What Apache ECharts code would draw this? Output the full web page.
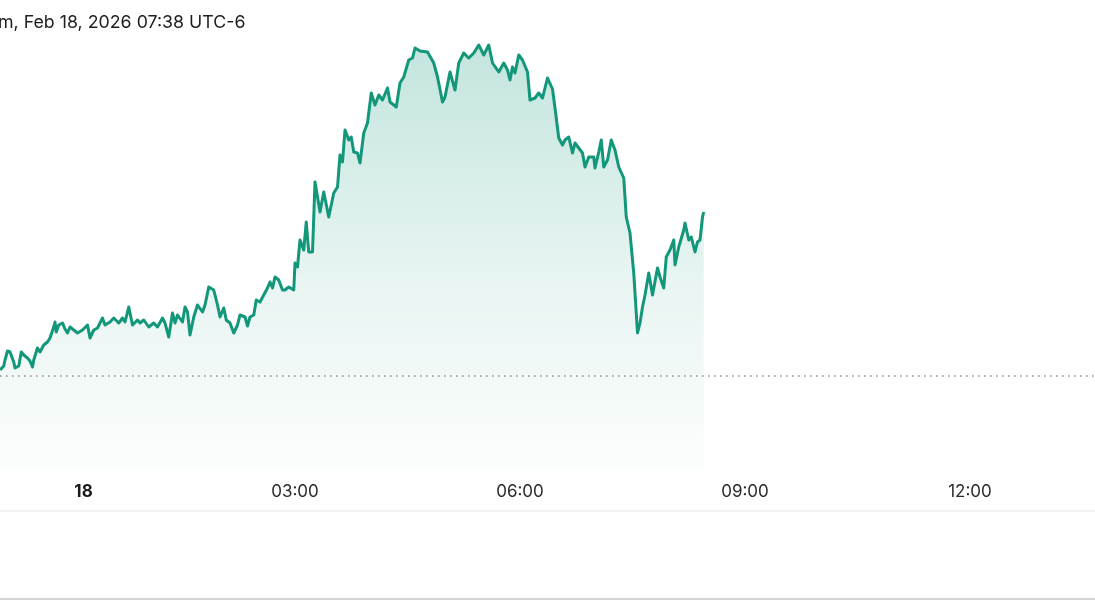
<!DOCTYPE html>
<html>
<head>
<meta charset="utf-8">
<script src="https://cdn.jsdelivr.net/npm/echarts@6/dist/echarts.min.js"></script>
<style>
html,body{margin:0;padding:0;background:#fff;}
#chart{width:1095px;height:600px;}
</style>
</head>
<body>
<div id="chart"></div>
<script>
// Minutes from 00:00 Feb 18 (negative = Feb 17 evening)
const minutes = [-56,-53,-52,-50,-48,-45,-44,-41,-39,-37,-34,-32,-30,-29,-26,-24,-21,-18,-16,-13,-12,-11,-9,-6,-4,-2,0,3,6,10,14,16,19,22,26,28,32,35,39,42,44,47,50,54,56,59,63,67,70,74,76,79,82,84,86,90,92,94,96,99,102,106,108,111,115,118,120,123,125,128,131,134,136,140,142,144,147,149,152,155,158,160,162,164,167,170,172,175,179,180,182,184,187,189,191,194,196,200,203,207,211,214,216,218,220,223,225,227,230,232,235,238,241,244,247,250,254,256,261,264,267,271,274,276,280,286,291,294,298,300,304,308,311,315,319,323,327,331,335,338,343,347,350,352,354,356,359,362,366,368,372,375,378,382,386,388,391,394,396,399,402,404,407,410,412,415,419,420,423,425,427,430,433,436,439,443,445,448,451,454,456,458,460,463,466,470,472,475,477,480,483,484,487,491,492,495,497,500,502,504,506,507];
// % change vs previous close
const changePct = [0.06,0.10,0.16,0.25,0.24,0.14,0.08,0.10,0.24,0.21,0.18,0.15,0.09,0.16,0.28,0.24,0.31,0.34,0.38,0.49,0.54,0.44,0.51,0.53,0.47,0.43,0.49,0.46,0.43,0.46,0.51,0.38,0.46,0.48,0.58,0.51,0.54,0.58,0.53,0.58,0.54,0.69,0.51,0.56,0.53,0.56,0.49,0.53,0.49,0.58,0.53,0.39,0.63,0.53,0.61,0.54,0.69,0.64,0.41,0.59,0.71,0.64,0.71,0.89,0.86,0.71,0.59,0.68,0.56,0.53,0.43,0.51,0.61,0.59,0.50,0.59,0.61,0.76,0.74,0.81,0.88,0.94,0.88,0.99,0.96,0.86,0.86,0.89,0.86,1.13,1.09,1.36,1.26,1.54,1.24,1.24,1.94,1.64,1.84,1.59,1.83,1.89,2.21,2.14,2.46,2.36,2.39,2.24,2.23,2.13,2.43,2.53,2.83,2.71,2.81,2.76,2.88,2.74,2.69,2.93,2.99,3.16,3.18,3.28,3.25,3.24,3.13,2.99,2.74,2.79,3.04,2.86,3.13,3.23,3.18,3.23,3.31,3.21,3.31,3.13,3.04,3.13,3.06,2.96,3.09,3.03,3.21,3.16,3.04,2.76,2.78,2.83,2.78,2.98,2.87,2.68,2.38,2.31,2.36,2.39,2.23,2.33,2.28,2.23,2.09,2.19,2.19,2.08,2.24,2.36,2.09,2.16,2.36,2.26,2.09,1.98,1.59,1.43,1.03,0.43,0.53,0.69,0.81,1.03,0.81,1.08,0.99,0.88,1.19,1.26,1.36,1.11,1.29,1.46,1.53,1.36,1.39,1.24,1.34,1.36,1.59,1.64];
const tickMinutes = [0, 180, 360, 540, 720];
const tickLabels = ['18', '03:00', '06:00', '09:00', '12:00'];
const headerText = 'm, Feb 18, 2026 07:38 UTC-6';
const prevClose = 0;

const seriesData = minutes.map((m, i) => [m, changePct[i]]);
const lineColor = '#13977a';

const chart = echarts.init(document.getElementById('chart'), null, {renderer: 'canvas'});
chart.setOption({
  animation: false,
  backgroundColor: '#ffffff',
  grid: {left: 0, right: 0, top: 0, bottom: 130, containLabel: false},
  xAxis: {
    type: 'value',
    min: -56,
    max: 820,
    axisLine: {show: false},
    axisTick: {show: false},
    splitLine: {show: false},
    axisLabel: {
      customValues: tickMinutes,
      margin: 13,
      fontFamily: 'Inter',
      fontSize: 17,
      color: '#2b2b2b',
      formatter: function (v) {
        const i = tickMinutes.indexOf(v);
        if (i === 0) return '{day|' + tickLabels[0] + '}';
        return i >= 0 ? tickLabels[i] : '';
      },
      rich: {
        day: {fontFamily: 'Inter', fontSize: 17, fontWeight: 'bold', color: '#1a1a1a', padding: [0, 0, 0, 27]}
      }
    }
  },
  yAxis: {
    type: 'value',
    min: -0.94,
    max: 3.76,
    show: false,
    splitLine: {show: false}
  },
  series: [{
    type: 'line',
    data: seriesData,
    showSymbol: false,
    symbol: 'none',
    lineStyle: {color: lineColor, width: 3, join: 'round'},
    areaStyle: {
      origin: 'start',
      color: new echarts.graphic.LinearGradient(0, 0, 0, 1, [
        {offset: 0, color: 'rgba(19,151,122,0.36)'},
        {offset: 0.55, color: 'rgba(19,151,122,0.14)'},
        {offset: 1, color: 'rgba(19,151,122,0.02)'}
      ])
    },
    markLine: {
      silent: true,
      symbol: ['none', 'none'],
      label: {show: false},
      lineStyle: {color: '#8a8a8a', type: [1.5, 4.5], width: 1.5},
      data: [{yAxis: prevClose}]
    }
  }],
  graphic: [
    {
      type: 'text',
      left: -2,
      top: 14,
      style: {text: headerText, fontFamily: 'Inter', fontSize: 17.8, fill: '#1f1f1f'}
    },
    {
      type: 'rect',
      shape: {x: 0, y: 510, width: 1095, height: 2},
      style: {fill: '#f2f2f2'}
    },
    {
      type: 'rect',
      shape: {x: 0, y: 598, width: 1095, height: 2},
      style: {fill: '#d4d4d4'}
    }
  ]
});
</script>
</body>
</html>
